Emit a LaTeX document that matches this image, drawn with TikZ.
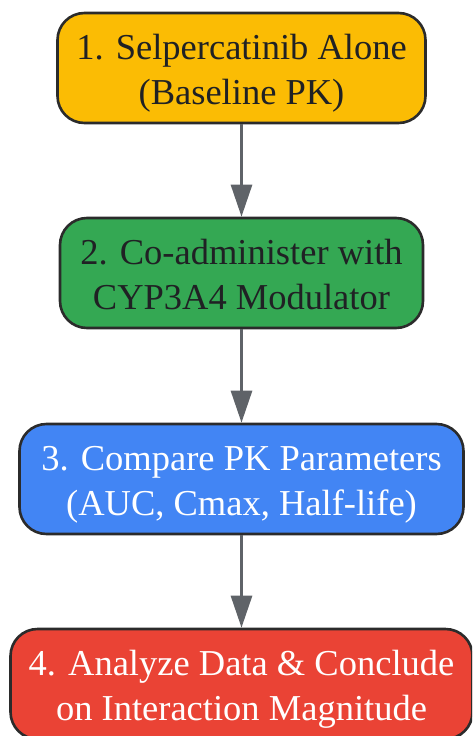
\documentclass[tikz,border=0pt]{standalone}
\usepackage{fontspec}
\setmainfont{Liberation Serif}
\usetikzlibrary{arrows.meta}
\definecolor{cyellow}{HTML}{FBBC04}
\definecolor{cgreen}{HTML}{34A853}
\definecolor{cblue}{HTML}{4285F4}
\definecolor{cred}{HTML}{EA4335}
\definecolor{cborder}{HTML}{2B2B2B}
\definecolor{cdark}{HTML}{202124}
\definecolor{carrow}{HTML}{5F6368}
\newcommand{\boxtext}[2]{\raisebox{-5pt}[\height][\depth]{\begin{tabular}{@{}c@{}}#1\\#2\end{tabular}}}
\tikzset{
  stepbox/.style={draw=cborder, line width=2.6pt, rounded corners=27pt,
    minimum height=110pt, inner sep=0pt, align=center,
    font=\fontsize{36.5}{45}\selectfont},
  flow/.style={draw=carrow, line width=2.8pt, -{Triangle[length=32pt,width=21pt]}}
}
\begin{document}
\begin{tikzpicture}[x=1pt,y=1pt]
\useasboundingbox (0,0) rectangle (472,-736);
\clip (0,0) rectangle (472,-736);
\node[stepbox, fill=cyellow, text=cdark, minimum width=368pt] (n1) at (241.5,-68) {\boxtext{1. Selpercatinib Alone}{(Baseline PK)}};
\node[stepbox, fill=cgreen, text=cdark, minimum width=363pt] (n2) at (241.5,-273) {\boxtext{2. Co-administer with}{CYP3A4 Modulator}};
\node[stepbox, fill=cblue, text=white, minimum width=444pt] (n3) at (241.5,-479) {\boxtext{3. Compare PK Parameters}{(AUC, Cmax, Half-life)}};
\node[stepbox, fill=cred, text=white, minimum width=462pt] (n4) at (241.5,-684) {\boxtext{4. Analyze Data \& Conclude}{on Interaction Magnitude}};
\draw[flow] (n1.south) -- (n2.north);
\draw[flow] (n2.south) -- (n3.north);
\draw[flow] (n3.south) -- (n4.north);
\end{tikzpicture}
\end{document}
